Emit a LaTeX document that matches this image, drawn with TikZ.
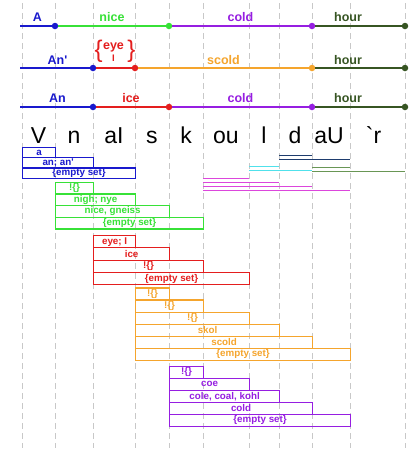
\documentclass[tikz,border=0pt]{standalone}
\usepackage{fontspec}
\newfontfamily\af{Liberation Sans}
\definecolor{cblue}{RGB}{25,25,205}
\definecolor{cgreen}{RGB}{55,225,55}
\definecolor{cred}{RGB}{228,30,30}
\definecolor{corange}{RGB}{245,165,45}
\definecolor{cpurple}{RGB}{150,30,225}
\definecolor{cdkgreen}{RGB}{55,85,35}
\definecolor{ccyan}{RGB}{80,225,235}
\definecolor{cmag}{RGB}{220,70,220}
\definecolor{cnavy}{RGB}{30,60,110}
\definecolor{colive}{RGB}{105,150,85}
\definecolor{cgrid}{RGB}{200,200,200}
\newcommand\bx[7]{\node[boxst,draw=#2,text=#2,minimum width={#4pt-#3pt},minimum height=#6pt] (#1) at (#3,#5) {#7};}
\begin{document}
\begin{tikzpicture}[x=1pt,y=-1pt,
 gridline/.style={cgrid, line width=0.9pt, dash pattern=on 6pt off 4pt},
 seg/.style={line width=1.4pt},
 dot/.style={circle, inner sep=0pt, minimum size=6.5pt},
 lab/.style={font=\af\bfseries\fontsize{12.5}{13}\selectfont, anchor=base, inner sep=0pt},
 brace/.style={font=\af\fontsize{24}{25}\selectfont, inner sep=0pt, text=cred},
 phon/.style={font=\af\fontsize{23}{24}\selectfont, anchor=base, inner sep=0pt},
 boxst/.style={font=\af\bfseries\fontsize{9.8}{10}\selectfont, inner sep=0pt, line width=1.2pt, anchor=north west},
 rl/.style={line width=1.1pt}
]
\fill[white] (0,0) rectangle (418,451);
\useasboundingbox (0,0) rectangle (418,451);
% grid
\foreach \i/\x in {0/22,1/55,2/93,3/135,4/169,5/203,6/249,7/279,8/312,9/350,10/405} {
  \coordinate (gt\i) at (\x,3);
  \coordinate (gb\i) at (\x,448);
  \draw[gridline] (gt\i) -- (gb\i);
}
% row 1
\coordinate (r1s) at (20,26);
\node[dot,fill=cblue] (r1a) at (55,26) {};
\node[dot,fill=cgreen] (r1b) at (169,26) {};
\node[dot,fill=cpurple] (r1c) at (312,26) {};
\node[dot,fill=cdkgreen] (r1d) at (405,26) {};
\draw[seg,cblue] (r1s) -- (r1a);
\draw[seg,cgreen] (r1a) -- (r1b);
\draw[seg,cpurple] (r1b) -- (r1c);
\draw[seg,cdkgreen] (r1c) -- (r1d);
\node[lab,text=cblue] (l1a) at (37.5,21.5) {A};
\node[lab,text=cgreen] (l1b) at (112,21.5) {nice};
\node[lab,text=cpurple] (l1c) at (240.5,21.5) {cold};
\node[lab,text=cdkgreen] (l1d) at (348,21.5) {hour};
% row 2
\coordinate (r2s) at (20,68);
\node[dot,fill=cblue] (r2a) at (93,68) {};
\node[dot,fill=cred] (r2b) at (135,68) {};
\node[dot,fill=corange] (r2c) at (312,68) {};
\node[dot,fill=cdkgreen] (r2d) at (405,68) {};
\draw[seg,cblue] (r2s) -- (r2a);
\draw[seg,cred] (r2a) -- (r2b);
\draw[seg,corange] (r2b) -- (r2c);
\draw[seg,cdkgreen] (r2c) -- (r2d);
\node[lab,text=cblue] (l2a) at (57.5,64) {An'};
\node[brace] (br1) at (98.7,51) {\{};
\node[brace] (br2) at (131.3,51) {\}};
\node[lab,text=cred] (l2b1) at (113.5,49) {eye};
\node[lab,text=cred,font=\af\bfseries\fontsize{9.5}{10}\selectfont] (l2b2) at (113.5,61.3) {I};
\node[lab,text=corange] (l2c) at (223.5,64) {scold};
\node[lab,text=cdkgreen] (l2d) at (348,64) {hour};
% row 3
\coordinate (r3s) at (20,107);
\node[dot,fill=cblue] (r3a) at (93,107) {};
\node[dot,fill=cred] (r3b) at (169,107) {};
\node[dot,fill=cpurple] (r3c) at (312,107) {};
\node[dot,fill=cdkgreen] (r3d) at (405,107) {};
\draw[seg,cblue] (r3s) -- (r3a);
\draw[seg,cred] (r3a) -- (r3b);
\draw[seg,cpurple] (r3b) -- (r3c);
\draw[seg,cdkgreen] (r3c) -- (r3d);
\node[lab,text=cblue] (l3a) at (57.5,102) {An};
\node[lab,text=cred] (l3b) at (131,102) {ice};
\node[lab,text=cpurple] (l3c) at (240.5,102) {cold};
\node[lab,text=cdkgreen] (l3d) at (348,102) {hour};
% phonemes
\node[phon] (p1) at (38.5,143.5) {V};
\node[phon] (p2) at (74,143.5) {n};
\node[phon] (p3) at (114,143.5) {aI};
\node[phon] (p4) at (152,143.5) {s};
\node[phon] (p5) at (186,143.5) {k};
\node[phon] (p6) at (226,143.5) {ou};
\node[phon] (p7) at (264,143.5) {l};
\node[phon] (p8) at (295,143.5) {d};
\node[phon] (p9) at (329,143.5) {aU};
\node[phon] (p10) at (373.5,143.5) {`r};
% right lines
\draw[rl,cnavy] (279,155.5) -- (312,155.5);
\draw[rl,cnavy] (279,159.3) -- (350,159.3);
\draw[rl,ccyan] (249,166.3) -- (279,166.3);
\draw[rl,ccyan] (249,170.3) -- (312,170.3);
\draw[rl,colive] (312,167.7) -- (350,167.7);
\draw[rl,colive] (312,171.8) -- (405,171.8);
\draw[rl,cmag] (203,178.3) -- (249,178.3);
\draw[rl,cmag] (203,182.3) -- (279,182.3);
\draw[rl,cmag] (203,186.3) -- (312,186.3);
\draw[rl,cmag] (203,190.5) -- (350,190.5);
% blue boxes
\bx{b1}{cblue}{22}{55}{146.7}{10.3}{a}
\bx{b2}{cblue}{22}{93}{157}{10.3}{an; an'}
\bx{b3}{cblue}{22}{135}{167.3}{10.3}{\{empty set\}}
% green boxes
\bx{g1}{cgreen}{55}{93}{181.7}{11.65}{!\{\}}
\bx{g2}{cgreen}{55}{135}{193.35}{11.65}{nigh; nye}
\bx{g3}{cgreen}{55}{169}{205}{11.65}{nice, gneiss}
\bx{g4}{cgreen}{55}{203}{216.65}{11.65}{\{empty set\}}
% red boxes
\bx{e1}{cred}{93}{135}{235}{12.25}{eye; I}
\bx{e2}{cred}{93}{169}{247.25}{12.25}{ice}
\bx{e3}{cred}{93}{203}{259.5}{12.25}{!\{\}}
\bx{e4}{cred}{93}{249}{271.75}{12.25}{\{empty set\}}
% orange boxes
\bx{o1}{corange}{135}{169}{287.3}{12.1}{!\{\}}
\bx{o2}{corange}{135}{203}{299.4}{12.1}{!\{\}}
\bx{o3}{corange}{135}{249}{311.5}{12.1}{!\{\}}
\bx{o4}{corange}{135}{279}{323.6}{12.1}{skol}
\bx{o5}{corange}{135}{312}{335.7}{12.1}{scold}
\bx{o6}{corange}{135}{350}{347.8}{12.1}{\{empty set\}}
% purple boxes
\bx{u1}{cpurple}{169}{203}{365.7}{12}{!\{\}}
\bx{u2}{cpurple}{169}{249}{377.7}{12}{coe}
\bx{u3}{cpurple}{169}{279}{389.7}{12}{cole, coal, kohl}
\bx{u4}{cpurple}{169}{312}{401.7}{12}{cold}
\bx{u5}{cpurple}{169}{350}{413.7}{12}{\{empty set\}}
\end{tikzpicture}
\end{document}
